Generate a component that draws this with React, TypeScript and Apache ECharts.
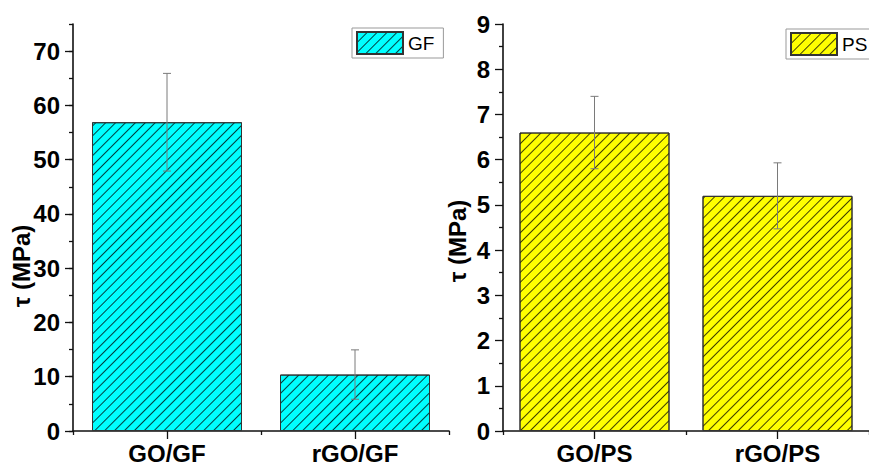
import React, { useEffect, useRef } from 'react';
import * as echarts from 'echarts';

const gfCategories = ['GO/GF', 'rGO/GF'];
const gfValues = [56.9, 10.4];
const gfErrors = [9.0, 4.55];
const psCategories = ['GO/PS', 'rGO/PS'];
const psValues = [6.6, 5.2];
const psErrors = [0.8, 0.73];
const gfTickLabels = [0, 10, 20, 30, 40, 50, 60, 70];
const psTickLabels = [0, 1, 2, 3, 4, 5, 6, 7, 8, 9];

const FONT = '"Liberation Sans", Arial, sans-serif';
const AXIS_COLOR = '#111';

export default function App() {
  const ref = useRef<HTMLDivElement>(null);
  useEffect(() => {
    if (!ref.current) return;
    const chart = echarts.init(ref.current, undefined, { renderer: 'svg' });
    const decal = {
      symbol: 'rect',
      symbolSize: 1,
      dashArrayX: [1, 0],
      dashArrayY: [1, 6],
      rotation: -Math.PI / 4,
      color: 'rgba(0,0,0,0.75)',
    };
    const axisLineStyle = { color: AXIS_COLOR, width: 1.6 };
    const tickLine = { color: AXIS_COLOR, width: 1.3 };
    const labelStyle = { fontSize: 24, fontWeight: 'bold', color: '#000', fontFamily: FONT };
    const errRender = (params: any, api: any) => {
      const i = api.value(0);
      const v = api.value(1);
      const e = api.value(2);
      const top = api.coord([i, v + e]);
      const bot = api.coord([i, v - e]);
      const cap = 4;
      const style = { stroke: '#7a7a7a', lineWidth: 1 };
      return {
        type: 'group',
        children: [
          { type: 'line', shape: { x1: top[0], y1: top[1], x2: bot[0], y2: bot[1] }, style },
          { type: 'line', shape: { x1: top[0] - cap, y1: top[1], x2: top[0] + cap, y2: top[1] }, style },
          { type: 'line', shape: { x1: bot[0] - cap, y1: bot[1], x2: bot[0] + cap, y2: bot[1] }, style },
        ],
      };
    };
    const legendCommon = {
      orient: 'horizontal',
      icon: 'rect',
      itemWidth: 46,
      itemHeight: 22,
      borderColor: '#999',
      borderWidth: 1,
      selectedMode: false,
      textStyle: { fontSize: 19, color: '#000', fontFamily: FONT },
    };
    const gridRect = (left: number) => ({ left, top: 24, width: 376, height: 407, containLabel: false });
    chart.setOption({
      animation: false,
      backgroundColor: '#fff',
      grid: [gridRect(73), gridRect(73), gridRect(503), gridRect(503)],
      legend: [
        { ...legendCommon, data: ['GF'], left: 352, top: 28, padding: [3, 9, 3, 4] },
        { ...legendCommon, data: ['PS'], left: 786, top: 29, padding: [3, 20, 3, 4] },
      ],
      xAxis: [
        {
          type: 'category', gridIndex: 0, data: gfCategories, boundaryGap: true,
          axisLine: { show: true, lineStyle: axisLineStyle },
          axisTick: { show: true, alignWithLabel: true, length: 8, lineStyle: tickLine },
          axisLabel: { ...labelStyle, margin: 10 },
          splitLine: { show: false },
        },
        {
          type: 'category', gridIndex: 1, data: gfCategories, boundaryGap: true,
          axisLine: { show: false },
          axisTick: { show: true, alignWithLabel: false, length: 4, lineStyle: tickLine },
          axisLabel: { show: false },
          splitLine: { show: false },
        },
        {
          type: 'category', gridIndex: 2, data: psCategories, boundaryGap: true,
          axisLine: { show: true, lineStyle: axisLineStyle },
          axisTick: { show: true, alignWithLabel: true, length: 8, lineStyle: tickLine },
          axisLabel: { ...labelStyle, margin: 10 },
          splitLine: { show: false },
        },
        {
          type: 'category', gridIndex: 3, data: psCategories, boundaryGap: true,
          axisLine: { show: false },
          axisTick: { show: true, alignWithLabel: false, length: 4, lineStyle: tickLine },
          axisLabel: { show: false },
          splitLine: { show: false },
        },
      ],
      yAxis: [
        {
          type: 'value', gridIndex: 0, min: 0, max: 75, interval: 5,
          axisLine: { show: true, lineStyle: axisLineStyle },
          axisTick: { show: true, length: 4, lineStyle: tickLine },
          axisLabel: { show: false },
          splitLine: { show: false },
        },
        {
          type: 'value', gridIndex: 1, min: 0, max: 75, interval: 10,
          axisLine: { show: false },
          axisTick: { show: true, length: 8, lineStyle: tickLine, customValues: gfTickLabels },
          axisLabel: {
            ...labelStyle, margin: 13, customValues: gfTickLabels,
            formatter: (v: number) => (v > 70 ? '' : String(v)),
          },
          splitLine: { show: false },
        },
        {
          type: 'value', gridIndex: 2, min: 0, max: 9, interval: 1,
          axisLine: { show: true, lineStyle: axisLineStyle },
          axisTick: { show: true, length: 8, lineStyle: tickLine },
          minorTick: { show: true, splitNumber: 2, length: 4, lineStyle: tickLine },
          axisLabel: { ...labelStyle, margin: 13, customValues: psTickLabels },
          splitLine: { show: false },
        },
        {
          type: 'value', gridIndex: 3, min: 0, max: 9, show: false,
          splitLine: { show: false },
        },
      ],
      series: [
        {
          type: 'bar', name: 'GF', xAxisIndex: 0, yAxisIndex: 0, data: gfValues, barWidth: 150,
          itemStyle: { color: '#00FFFF', borderColor: '#333', borderWidth: 1, decal },
        },
        {
          type: 'custom', xAxisIndex: 0, yAxisIndex: 0, z: 10,
          data: gfValues.map((v, i) => [i, v, gfErrors[i]]),
          renderItem: errRender,
        },
        {
          type: 'bar', name: 'PS', xAxisIndex: 2, yAxisIndex: 2, data: psValues, barWidth: 150,
          itemStyle: { color: '#FFFF00', borderColor: '#333', borderWidth: 1, decal },
        },
        {
          type: 'custom', xAxisIndex: 2, yAxisIndex: 2, z: 10,
          data: psValues.map((v, i) => [i, v, psErrors[i]]),
          renderItem: errRender,
        },
      ],
      graphic: [
        {
          type: 'text', x: 21, y: 266, rotation: Math.PI / 2,
          style: { text: 'τ (MPa)', fontSize: 24, fontWeight: 'bold', fontFamily: FONT, fill: '#000', align: 'center', verticalAlign: 'middle' },
        },
        {
          type: 'text', x: 457, y: 241, rotation: Math.PI / 2,
          style: { text: 'τ (MPa)', fontSize: 24, fontWeight: 'bold', fontFamily: FONT, fill: '#000', align: 'center', verticalAlign: 'middle' },
        },
      ],
    });
    return () => chart.dispose();
  }, []);
  return <div ref={ref} style={{ position: 'fixed', left: 0, top: 0, width: 869, height: 466 }} />;
}
